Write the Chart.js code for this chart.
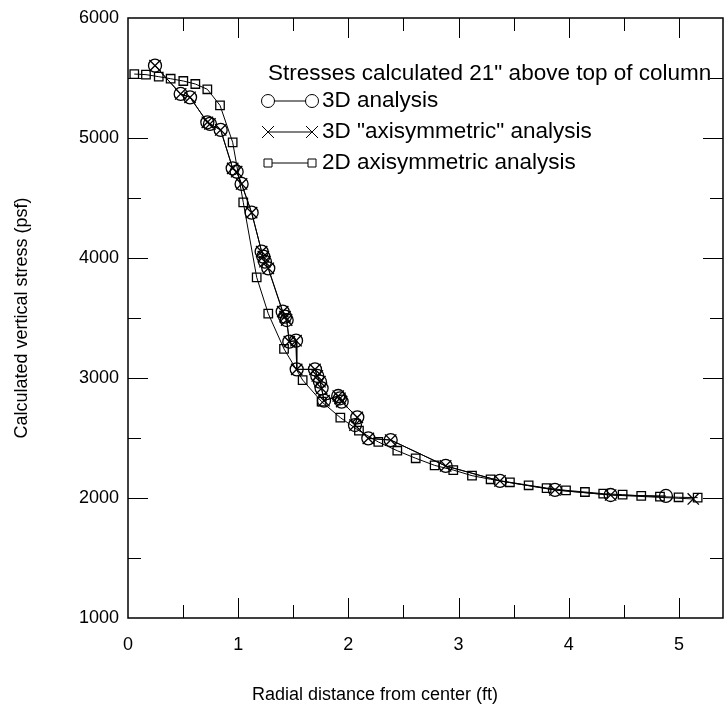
<!DOCTYPE html>
<html>
<head>
<meta charset="utf-8">
<script src="https://cdn.jsdelivr.net/npm/chart.js@4/dist/chart.umd.min.js"></script>
<style>
  html, body { margin: 0; padding: 0; background: #fff; }
  #wrap { width: 725px; height: 709px; }
</style>
</head>
<body>
<div id="wrap"><canvas id="stressChart" width="725" height="709"></canvas></div>
<script>
// 3D analysis (circles)
var r3d = [0.245, 0.478, 0.563, 0.720, 0.744, 0.841, 0.950, 0.986, 1.031, 1.122,
           1.213, 1.228, 1.243, 1.273, 1.404, 1.425, 1.440, 1.464, 1.525, 1.531,
           1.697, 1.718, 1.742, 1.757, 1.779, 1.908, 1.924, 1.939, 2.081, 2.060,
           2.181, 2.384, 2.883, 3.376, 3.875, 4.380, 4.882];
var s3d = [5603, 5367, 5339, 5131, 5117, 5067, 4747, 4719, 4617, 4378,
           4053, 4011, 3969, 3914, 3553, 3511, 3483, 3303, 3311, 3072,
           3072, 3017, 2969, 2914, 2811, 2850, 2831, 2803, 2672, 2608,
           2497, 2483, 2267, 2142, 2067, 2025, 2017];

// 3D "axisymmetric" analysis (crosses)
var r3dAxi = [0.245, 0.478, 0.563, 0.720, 0.744, 0.841, 0.950, 0.986, 1.031, 1.122,
              1.213, 1.228, 1.243, 1.273, 1.404, 1.425, 1.440, 1.464, 1.525, 1.531,
              1.697, 1.718, 1.742, 1.757, 1.779, 1.908, 1.924, 1.939, 2.081, 2.060,
              2.181, 2.384, 2.883, 3.376, 3.875, 4.380, 5.130];
var s3dAxi = [5603, 5367, 5339, 5131, 5117, 5067, 4747, 4719, 4617, 4378,
              4053, 4011, 3969, 3914, 3553, 3511, 3483, 3303, 3311, 3072,
              3072, 3017, 2969, 2914, 2811, 2850, 2831, 2803, 2672, 2608,
              2497, 2483, 2267, 2142, 2067, 2025, 1992];

// 2D axisymmetric analysis (squares)
var r2d = [0.057, 0.163, 0.279, 0.387, 0.502, 0.611, 0.720, 0.835, 0.950, 1.046,
           1.168, 1.273, 1.416, 1.585, 1.757, 1.927, 2.096, 2.272, 2.444, 2.611,
           2.783, 2.952, 3.122, 3.291, 3.466, 3.636, 3.799, 3.975, 4.147, 4.313,
           4.489, 4.658, 4.828, 4.997, 5.170];
var s2d = [5533, 5528, 5511, 5494, 5475, 5450, 5406, 5272, 4964, 4464,
           3839, 3536, 3242, 2983, 2803, 2670, 2561, 2467, 2394, 2331,
           2272, 2233, 2186, 2156, 2131, 2106, 2083, 2064, 2050, 2036,
           2028, 2017, 2011, 2006, 2003];

// tick values (labels only on the whole ones)
var xTickValues = [0, 0.5, 1, 1.5, 2, 2.5, 3, 3.5, 4, 4.5, 5];
var yTickValues = [1000, 1500, 2000, 2500, 3000, 3500, 4000, 4500, 5000, 5500, 6000];

var seriesNames = ['3D analysis', '3D "axisymmetric" analysis', '2D axisymmetric analysis'];
var legendTitle = 'Stresses calculated 21" above top of column';
var xTitle = 'Radial distance from center (ft)';
var yTitle = 'Calculated vertical stress (psf)';

var FONT = 'Arial, "Liberation Sans", sans-serif';

function toPoints(xs, ys) {
    return xs.map(function (x, i) { return { x: x, y: ys[i] }; });
}

// inward ticks on all four sides, box frame, axis titles and the legend
var framePlugin = {
    id: 'framePlugin',
    afterDraw: function (chart) {
        var ctx = chart.ctx, a = chart.chartArea;
        var xs = chart.scales.x, ys = chart.scales.y;
        ctx.save();
        ctx.strokeStyle = '#000';
        ctx.lineWidth = 1;

        function seg(x1, y1, x2, y2) {
            ctx.beginPath(); ctx.moveTo(x1, y1); ctx.lineTo(x2, y2); ctx.stroke();
        }

        xs.ticks.forEach(function (t) {
            if (t.value <= xs.min || t.value >= xs.max) return;
            var len = Number.isInteger(t.value) ? 20 : 13;
            var px = Math.round(xs.getPixelForValue(t.value)) + 0.5;
            seg(px, a.bottom, px, a.bottom - len);
            seg(px, a.top, px, a.top + len);
        });
        ys.ticks.forEach(function (t) {
            if (t.value <= ys.min || t.value >= ys.max) return;
            var len = t.value % 1000 === 0 ? 20 : 13;
            var py = Math.round(ys.getPixelForValue(t.value)) + 0.5;
            seg(a.left, py, a.left + len, py);
            seg(a.right, py, a.right - len, py);
        });

        ctx.lineWidth = 1.5;
        ctx.strokeRect(a.left, a.top, a.right - a.left, a.bottom - a.top);

        // axis titles
        ctx.fillStyle = '#000';
        ctx.font = '18px ' + FONT;
        ctx.textAlign = 'center';
        ctx.textBaseline = 'middle';
        ctx.fillText(xTitle, 375, 695);
        ctx.save();
        ctx.translate(22, (a.top + a.bottom) / 2);
        ctx.rotate(-Math.PI / 2);
        ctx.fillText(yTitle, 0, 0);
        ctx.restore();

        // legend
        ctx.font = '22.5px ' + FONT;
        ctx.textAlign = 'left';
        ctx.fillText(legendTitle, 268, 74);
        var rows = [101, 132, 163];
        var styles = ['circle', 'cross', 'square'];
        rows.forEach(function (ry, i) {
            ctx.lineWidth = 1;
            seg(268, ry, 312, ry);
            [268, 312].forEach(function (mx) {
                ctx.beginPath();
                if (styles[i] === 'circle') {
                    ctx.fillStyle = '#fff';
                    ctx.arc(mx, ry, 6.5, 0, Math.PI * 2);
                    ctx.fill(); ctx.stroke();
                } else if (styles[i] === 'cross') {
                    ctx.moveTo(mx - 6, ry - 6); ctx.lineTo(mx + 6, ry + 6);
                    ctx.moveTo(mx - 6, ry + 6); ctx.lineTo(mx + 6, ry - 6);
                    ctx.stroke();
                } else {
                    ctx.fillStyle = '#fff';
                    ctx.rect(mx - 4, ry - 4, 8, 8);
                    ctx.fill(); ctx.stroke();
                }
            });
            ctx.fillStyle = '#000';
            ctx.fillText(seriesNames[i], 322, ry);
        });
        ctx.restore();
    }
};

var ctx = document.getElementById('stressChart').getContext('2d');

var stressChart = new Chart(ctx, {
    type: 'scatter',
    data: {
        datasets: [
            {
                label: seriesNames[0],
                data: toPoints(r3d, s3d),
                showLine: true,
                borderColor: '#000',
                borderWidth: 1,
                pointStyle: 'circle',
                pointRadius: 6.5,
                pointBorderWidth: 1.3,
                pointBackgroundColor: 'rgba(255,255,255,0)',
                pointBorderColor: '#000'
            },
            {
                label: seriesNames[1],
                data: toPoints(r3dAxi, s3dAxi),
                showLine: true,
                borderColor: '#000',
                borderWidth: 1,
                pointStyle: 'crossRot',
                pointRadius: 8,
                pointBorderWidth: 1.3,
                pointBorderColor: '#000'
            },
            {
                label: seriesNames[2],
                data: toPoints(r2d, s2d),
                showLine: true,
                borderColor: '#000',
                borderWidth: 1,
                pointStyle: 'rect',
                pointRadius: 6,
                pointBorderWidth: 1.3,
                pointBackgroundColor: 'rgba(255,255,255,0)',
                pointBorderColor: '#000'
            }
        ]
    },
    options: {
        responsive: false,
        animation: false,
        devicePixelRatio: 1,
        layout: { autoPadding: false, padding: { top: 18, right: 2, bottom: 0, left: 0 } },
        plugins: {
            legend: { display: false },
            tooltip: { enabled: false }
        },
        scales: {
            x: {
                type: 'linear',
                min: 0,
                max: 5.4,
                grid: { display: false, drawTicks: false },
                border: { display: false },
                ticks: {
                    autoSkip: false,
                    maxRotation: 0,
                    color: '#000',
                    font: { family: FONT, size: 18 },
                    padding: 16,
                    callback: function (v) { return Number.isInteger(v) ? String(v) : ''; }
                },
                afterBuildTicks: function (scale) {
                    scale.ticks = xTickValues.map(function (v) { return { value: v }; });
                },
                afterFit: function (scale) {
                    scale.height = 91;
                    scale.paddingLeft = 0;
                    scale.paddingRight = 0;
                }
            },
            y: {
                type: 'linear',
                min: 1000,
                max: 6000,
                grid: { display: false, drawTicks: false },
                border: { display: false },
                ticks: {
                    autoSkip: false,
                    color: '#000',
                    font: { family: FONT, size: 18 },
                    padding: 9,
                    callback: function (v) { return v % 1000 === 0 ? String(v) : ''; }
                },
                afterBuildTicks: function (scale) {
                    scale.ticks = yTickValues.map(function (v) { return { value: v }; });
                },
                afterFit: function (scale) {
                    scale.width = 128;
                    scale.paddingTop = 0;
                    scale.paddingBottom = 0;
                }
            }
        }
    },
    plugins: [framePlugin]
});
</script>
</body>
</html>
